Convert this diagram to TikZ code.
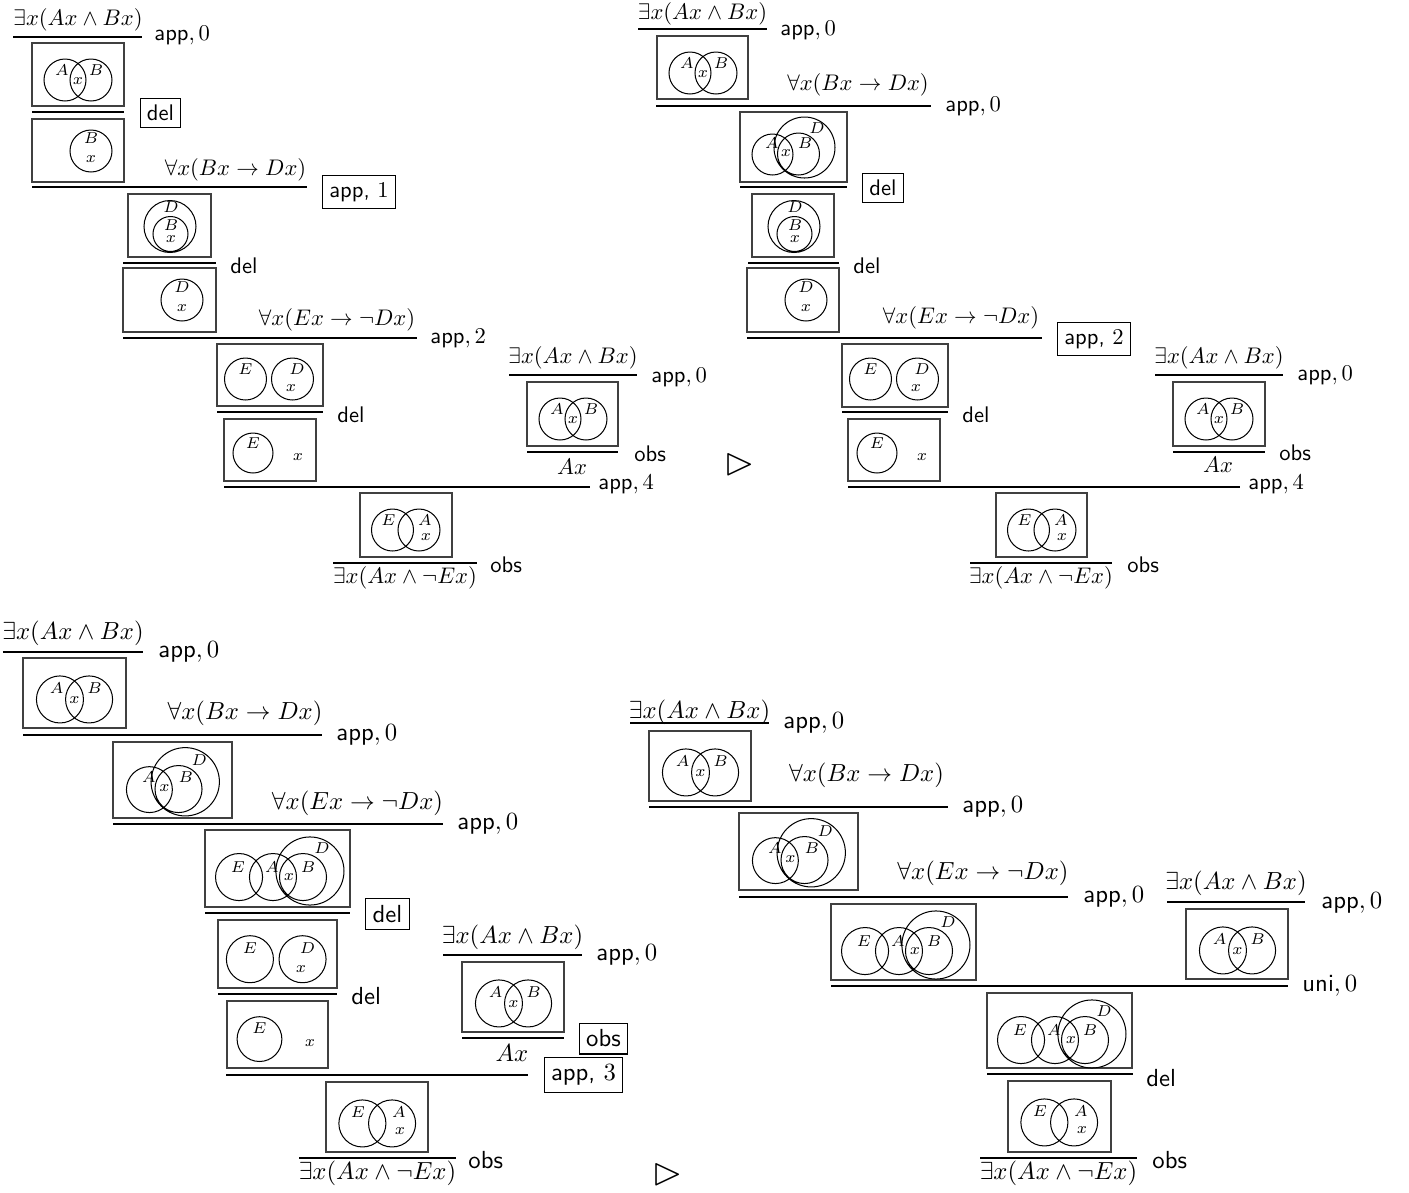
\documentclass[tikz,border=0pt]{standalone}
\usepackage{amssymb}
\usepackage{tikz}

% venn boxes: #1 top-left corner, #2 width, #3 height, #4 scale of the circles
\newcommand{\vennAB}[4]{%
  \draw[frame] (#1) rectangle ++(#2,#3);
  \begin{scope}[shift={(#1)},scale=#4]
    \draw[venn] (33,37) circle (21) (59,37) circle (21);
    \node[lbl] at (30,27) {$A$};
    \node[lbl] at (64,27) {$B$};
    \node[lbl] at (46,38) {$x$};
  \end{scope}}
\newcommand{\vennB}[4]{%
  \draw[frame] (#1) rectangle ++(#2,#3);
  \begin{scope}[shift={(#1)},scale=#4]
    \draw[venn] (59,32) circle (21);
    \node[lbl] at (59,19) {$B$};
    \node[lbl] at (59,40) {$x$};
  \end{scope}}
\newcommand{\vennD}[4]{%
  \draw[frame] (#1) rectangle ++(#2,#3);
  \begin{scope}[shift={(#1)},scale=#4]
    \draw[venn] (59,32) circle (21);
    \node[lbl] at (59,19) {$D$};
    \node[lbl] at (59,40) {$x$};
  \end{scope}}
\newcommand{\vennDB}[4]{%
  \draw[frame] (#1) rectangle ++(#2,#3);
  \begin{scope}[shift={(#1)},scale=#4]
    \draw[venn] (42,32.5) circle (26) (42.5,40) circle (17.5);
    \node[lbl] at (43,13.5) {$D$};
    \node[lbl] at (43,31.5) {$B$};
    \node[lbl] at (43,45) {$x$};
  \end{scope}}
\newcommand{\vennED}[4]{%
  \draw[frame] (#1) rectangle ++(#2,#3);
  \begin{scope}[shift={(#1)},scale=#4]
    \draw[venn] (28.5,35) circle (21) (75.5,35) circle (21);
    \node[lbl] at (28.5,25) {$E$};
    \node[lbl] at (80,25) {$D$};
    \node[lbl] at (74,44) {$x$};
  \end{scope}}
\newcommand{\vennEx}[4]{%
  \draw[frame] (#1) rectangle ++(#2,#3);
  \begin{scope}[shift={(#1)},scale=#4]
    \draw[venn] (29,34) circle (20);
    \node[lbl] at (29,24) {$E$};
    \node[lbl] at (74,38) {$x$};
  \end{scope}}
\newcommand{\vennEA}[4]{%
  \draw[frame] (#1) rectangle ++(#2,#3);
  \begin{scope}[shift={(#1)},scale=#4]
    \draw[venn] (32.5,37) circle (21) (59,37) circle (21);
    \node[lbl] at (28.5,27) {$E$};
    \node[lbl] at (65,27) {$A$};
    \node[lbl] at (66,44) {$x$};
  \end{scope}}
\newcommand{\vennABD}[4]{%
  \draw[frame] (#1) rectangle ++(#2,#3);
  \begin{scope}[shift={(#1)},scale=#4]
    \draw[venn] (32.5,42.5) circle (20.5) (58.5,42) circle (21) (64.5,35.5) circle (30.5);
    \node[lbl] at (77,16) {$D$};
    \node[lbl] at (32,31) {$A$};
    \node[lbl] at (65,31) {$B$};
    \node[lbl] at (46,41) {$x$};
  \end{scope}}
\newcommand{\vennEABD}[4]{%
  \draw[frame] (#1) rectangle ++(#2,#3);
  \begin{scope}[shift={(#1)},scale=#4]
    \draw[venn] (30.4,42) circle (21) (60.7,42) circle (21) (87.5,42) circle (21)
      (93.7,36.6) circle (30.4);
    \node[lbl] at (29.5,33) {$E$};
    \node[lbl] at (59.8,33) {$A$};
    \node[lbl] at (92,33) {$B$};
    \node[lbl] at (75,42) {$x$};
    \node[lbl] at (104.5,16) {$D$};
  \end{scope}}

\begin{document}
\begin{tikzpicture}[x=0.443pt,y=-0.443pt,
    frame/.style={draw=black!75,line width=0.6pt},
    venn/.style={line width=0.45pt},
    rule/.style={line width=0.5pt},
    fml/.style={inner sep=0pt},
    lbl/.style={inner sep=0pt,font=\scriptsize},
    rname/.style={inner sep=0pt,anchor=west},
    rbox/.style={draw,line width=0.45pt,inner sep=3pt},
    sym/.style={inner sep=0pt,font=\LARGE}]
  \useasboundingbox (0,0) rectangle (1409,1192);

  % top left
  \node[fml] (tlf1) at (78,20) {$\exists x(Ax\wedge Bx)$};
  \draw[rule] (13,37) -- (142,37);
  \node[rname] (tlr1) at (154,35) {\textsf{app}$,0$};
  \vennAB{32,43}{92}{63}{1}
  \draw[rule] (32,112) -- (124,112);
  \node[rbox] (tlr2) at (160.5,113) {\textsf{del}};
  \vennB{32,119}{92}{63}{1}
  \node[fml] (tlf2) at (235.5,170) {$\forall x(Bx\to Dx)$};
  \draw[rule] (32,187) -- (307,187);
  \node[rbox] (tlr3) at (359,192) {\textsf{app,} $1$};
  \vennDB{128,194}{83}{63}{1}
  \draw[rule] (123,263) -- (216,263);
  \node[rname] (tlr4) at (230,266) {\textsf{del}};
  \vennD{123,268}{93}{64}{1}
  \node[fml] (tlf3) at (337,320) {$\forall x(Ex\to\neg Dx)$};
  \draw[rule] (123,338) -- (417,338);
  \node[rname] (tlr5) at (430,338) {\textsf{app}$,2$};
  \vennED{217,344}{106}{62}{1}
  \draw[rule] (217,412) -- (323,412);
  \node[rname] (tlr6) at (337,415) {\textsf{del}};
  \vennEx{224,419}{92}{62}{1}
  \node[fml] (tlf4) at (573,358) {$\exists x(Ax\wedge Bx)$};
  \draw[rule] (509,375) -- (637,375);
  \node[rname] (tlr7) at (651,377) {\textsf{app}$,0$};
  \vennAB{527,382}{91}{64}{1}
  \draw[rule] (527,452) -- (618,452);
  \node[fml] (tlf5) at (572,467) {$Ax$};
  \node[rname] (tlr8) at (634,454) {\textsf{obs}};
  \draw[rule] (224,487) -- (590,487);
  \node[rname] (tlr9) at (598,484) {\textsf{app}$,4$};
  \vennEA{360,493}{92}{64}{1}
  \draw[rule] (333,563) -- (477,563);
  \node[fml] (tlf6) at (405,578) {$\exists x(Ax\wedge\neg Ex)$};
  \node[rname] (tlr10) at (490,565) {\textsf{obs}};
  \node[sym] (tri1) at (740,464) {$\rhd$};

  % top right
  \node[fml] (trf1) at (702.5,14) {$\exists x(Ax\wedge Bx)$};
  \draw[rule] (638,29) -- (767,29);
  \node[rname] (trr1) at (780,30) {\textsf{app}$,0$};
  \vennAB{657,36}{91}{63}{1}
  \node[fml] (trf2) at (858,85) {$\forall x(Bx\to Dx)$};
  \draw[rule] (656,106) -- (931,106);
  \node[rname] (trr2) at (945,106) {\textsf{app}$,0$};
  \vennABD{740,112}{107}{70}{1}
  \draw[rule] (740,187) -- (847,187);
  \node[rbox] (trr3) at (883,188) {\textsf{del}};
  \vennDB{752,194}{82}{63}{1}
  \draw[rule] (748,263) -- (839,263);
  \node[rname] (trr4) at (853,266) {\textsf{del}};
  \vennD{747,268}{92}{64}{1}
  \node[fml] (trf3) at (961,318) {$\forall x(Ex\to\neg Dx)$};
  \draw[rule] (747,338) -- (1042,338);
  \node[rbox] (trr5) at (1094,339) {\textsf{app,} $2$};
  \vennED{842,344}{106}{63}{1}
  \draw[rule] (842,412) -- (948,412);
  \node[rname] (trr6) at (962,415) {\textsf{del}};
  \vennEx{848,419}{92}{62}{1}
  \node[fml] (trf4) at (1219,358) {$\exists x(Ax\wedge Bx)$};
  \draw[rule] (1155,375) -- (1283,375);
  \node[rname] (trr7) at (1297,375) {\textsf{app}$,0$};
  \vennAB{1173,382}{92}{64}{1}
  \draw[rule] (1173,452) -- (1265,452);
  \node[fml] (trf5) at (1218,465) {$Ax$};
  \node[rname] (trr8) at (1279,453) {\textsf{obs}};
  \draw[rule] (848,487) -- (1240,487);
  \node[rname] (trr9) at (1248,484) {\textsf{app}$,4$};
  \vennEA{996,493}{91}{64}{1}
  \draw[rule] (970,563) -- (1112,563);
  \node[fml] (trf6) at (1041,578) {$\exists x(Ax\wedge\neg Ex)$};
  \node[rname] (trr10) at (1127,565) {\textsf{obs}};

  \begin{scope}[font=\fontsize{10.95}{13}\selectfont]
  % bottom left
  \node[fml] (blf1) at (73,633) {$\exists x(Ax\wedge Bx)$};
  \draw[rule] (3,652) -- (143,652);
  \node[rname] (blr1) at (158,652) {\textsf{app}$,0$};
  \vennAB{23,658}{103}{70}{1.12}
  \node[fml] (blf2) at (245,713) {$\forall x(Bx\to Dx)$};
  \draw[rule] (23,735) -- (322,735);
  \node[rname] (blr2) at (336,735) {\textsf{app}$,0$};
  \vennABD{113,742}{119}{76}{1.12}
  \node[fml] (blf3) at (357.5,803) {$\forall x(Ex\to\neg Dx)$};
  \draw[rule] (113,824) -- (443,824);
  \node[rname] (blr3) at (457,824) {\textsf{app}$,0$};
  \vennEABD{205,830}{145}{77}{1.12}
  \draw[rule] (205,913) -- (350,913);
  \node[rbox] (blr4) at (387.5,914) {\textsf{del}};
  \vennED{218,920}{119}{68}{1.12}
  \draw[rule] (218,994) -- (337,994);
  \node[rname] (blr5) at (351,996) {\textsf{del}};
  \vennEx{227,1001}{101}{67}{1.12}
  \node[fml] (blf4) at (512.5,937) {$\exists x(Ax\wedge Bx)$};
  \draw[rule] (443,955) -- (582,955);
  \node[rname] (blr6) at (596,955) {\textsf{app}$,0$};
  \vennAB{462,962}{102}{70}{1.12}
  \draw[rule] (462,1038) -- (564,1038);
  \node[fml] (blf5) at (512,1053) {$Ax$};
  \node[rbox] (blr7) at (603.5,1038.5) {\textsf{obs}};
  \draw[rule] (226,1075) -- (528,1075);
  \node[rbox] (blr8) at (583.5,1075) {\textsf{app,} $3$};
  \vennEA{326,1082}{102}{70}{1.12}
  \draw[rule] (299,1158) -- (456,1158);
  \node[fml] (blf6) at (377.5,1173) {$\exists x(Ax\wedge\neg Ex)$};
  \node[rname] (blr9) at (468,1160) {\textsf{obs}};

  % bottom right
  \node[fml] (brf1) at (699.5,712) {$\exists x(Ax\wedge Bx)$};
  \draw[rule] (630,723) -- (769,723);
  \node[rname] (brr1) at (783,723) {\textsf{app}$,0$};
  \vennAB{649,731}{102}{70}{1.12}
  \node[fml] (brf2) at (866.5,775) {$\forall x(Bx\to Dx)$};
  \draw[rule] (649,807) -- (948,807);
  \node[rname] (brr2) at (962,807) {\textsf{app}$,0$};
  \vennABD{739,813}{119}{77}{1.12}
  \node[fml] (brf3) at (983,873) {$\forall x(Ex\to\neg Dx)$};
  \draw[rule] (739,897) -- (1068,897);
  \node[rname] (brr3) at (1083,897) {\textsf{app}$,0$};
  \vennEABD{831,904}{145}{76}{1.12}
  \node[fml] (brf4) at (1236,883) {$\exists x(Ax\wedge Bx)$};
  \draw[rule] (1167,902) -- (1305,902);
  \node[rname] (brr4) at (1321,903) {\textsf{app}$,0$};
  \vennAB{1186,909}{102}{70}{1.12}
  \draw[rule] (831,986) -- (1288,986);
  \node[rname] (brr5) at (1302,986) {\textsf{uni}$,0$};
  \vennEABD{987,993}{145}{75}{1.12}
  \draw[rule] (987,1074) -- (1133,1074);
  \node[rname] (brr6) at (1146,1078) {\textsf{del}};
  \vennEA{1008,1081}{103}{71}{1.12}
  \draw[rule] (980,1158) -- (1137,1158);
  \node[fml] (brf5) at (1058.5,1173) {$\exists x(Ax\wedge\neg Ex)$};
  \node[rname] (brr7) at (1152,1160) {\textsf{obs}};
  \end{scope}
  \node[sym] (tri2) at (667.5,1174) {$\rhd$};
\end{tikzpicture}
\end{document}
